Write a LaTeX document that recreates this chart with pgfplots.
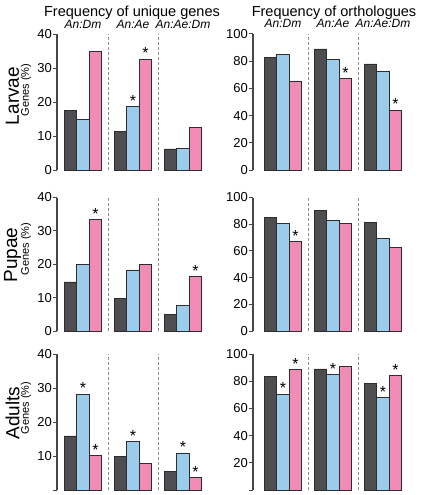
\documentclass[border=0pt]{standalone}
\usepackage{fontspec}
\setmainfont{Liberation Sans}
\usepackage{pgfplots}
\pgfplotsset{compat=1.18}
\definecolor{cdark}{RGB}{78,78,80}
\definecolor{cblue}{RGB}{155,204,236}
\definecolor{cpink}{RGB}{240,140,182}
\definecolor{cline}{RGB}{45,45,47}
\definecolor{caxis}{RGB}{70,70,70}
\definecolor{cdash}{RGB}{140,140,140}
\tikzset{glab/.style={anchor=base, font=\itshape\fontsize{12}{12}\selectfont},
  rowlab/.style={rotate=90, font=\fontsize{19}{19}\selectfont},
  genlab/.style={rotate=90, font=\fontsize{11}{11}\selectfont}}
\pgfplotsset{
  panel/.style={scale only axis, axis y line=left, axis x line=none,
    y axis line style={-, line width=1.2pt, caxis},
    ytick style={line width=1pt, caxis}, tick align=outside, major tick length=4pt,
    xtick=\empty, xmax=3.5, ymin=0, clip=false,
    /pgf/number format/assume math mode=true,
    yticklabel style={font=\fontsize{13}{13}\selectfont, inner sep=1pt}},
  lpanel/.style={panel, width=151pt, xmin=0.48, ymax=40, ytick={0,10,20,30,40}},
  rpanel/.style={panel, width=155pt, xmin=0.4, ymax=100, ytick={0,20,40,60,80,100}},
  bbase/.style={ybar, bar width=0.25, bar shift=0pt, draw=cline, line width=0.8pt},
  bdark/.style={bbase, fill=cdark},
  bblue/.style={bbase, fill=cblue},
  bpink/.style={bbase, fill=cpink},
  star/.style={draw=none, mark=none, nodes near coords={*},
    every node near coord/.style={anchor=south, inner sep=0pt, text=black, font=\fontsize{16}{16}\selectfont}},
  sep/.style={cdash, dash pattern=on 3pt off 2pt, line width=0.9pt},
}
\begin{document}
\begin{tikzpicture}
\path[use as bounding box] (0pt,0pt) rectangle (423pt,-495pt);
% titles
\node[anchor=base, font=\fontsize{14.5}{14.5}\selectfont] at (132pt,-16.5pt) {Frequency of unique genes};
\node[anchor=base, font=\fontsize{14.5}{14.5}\selectfont] at (334pt,-16.5pt) {Frequency of orthologues};
% row labels
\node[rowlab] at (12.5pt,-96pt) {Larvae};
\node[genlab] at (26pt,-90pt) {Genes (\%)};
\node[rowlab] at (12.5pt,-255pt) {Pupae};
\node[genlab] at (26pt,-249pt) {Genes (\%)};
\node[rowlab] at (12.5pt,-413pt) {Adults};
\node[genlab] at (26pt,-408pt) {Genes (\%)};

% ---------- Larvae, unique ----------
\begin{axis}[lpanel, at={(57pt,-170pt)}, anchor=south west, height=136pt]
\addplot[sep] coordinates {(1.5,0) (1.5,40)};
\addplot[sep] coordinates {(2.5,0) (2.5,40)};
\addplot[bdark] coordinates {(0.75,17.5) (1.75,11.3) (2.75,6.2)};
\addplot[bblue] coordinates {(1,14.9) (2,18.7) (3,6.4)};
\addplot[bpink] coordinates {(1.25,34.8) (2.25,32.6) (3.25,12.5)};
\addplot[star] coordinates {(2,18.7) (2.25,32.6)};
\node[glab] at (axis cs:1,40) [yshift=6pt] {An:Dm};
\node[glab] at (axis cs:2,40) [yshift=6pt] {An:Ae};
\node[glab] at (axis cs:3,40) [yshift=6pt] {An:Ae:Dm};
\end{axis}
% ---------- Larvae, orthologues ----------
\begin{axis}[rpanel, at={(253pt,-170pt)}, anchor=south west, height=136pt]
\addplot[sep] coordinates {(1.5,0) (1.5,100)};
\addplot[sep] coordinates {(2.5,0) (2.5,100)};
\addplot[bdark] coordinates {(0.75,82.5) (1.75,89) (2.75,78)};
\addplot[bblue] coordinates {(1,85) (2,81) (3,72.5)};
\addplot[bpink] coordinates {(1.25,65.5) (2.25,67) (3.25,44)};
\addplot[star] coordinates {(2.25,67) (3.25,44)};
\node[glab] at (axis cs:1,100) [yshift=6pt] {An:Dm};
\node[glab] at (axis cs:2,100) [yshift=6pt] {An:Ae};
\node[glab] at (axis cs:3,100) [yshift=6pt] {An:Ae:Dm};
\end{axis}
% ---------- Pupae, unique ----------
\begin{axis}[lpanel, at={(57pt,-331pt)}, anchor=south west, height=133.5pt]
\addplot[sep] coordinates {(1.5,0) (1.5,40)};
\addplot[sep] coordinates {(2.5,0) (2.5,40)};
\addplot[bdark] coordinates {(0.75,14.7) (1.75,9.7) (2.75,4.9)};
\addplot[bblue] coordinates {(1,19.9) (2,18.3) (3,7.7)};
\addplot[bpink] coordinates {(1.25,33.4) (2.25,19.9) (3.25,16.3)};
\addplot[star] coordinates {(1.25,33.4) (3.25,16.3)};
\end{axis}
% ---------- Pupae, orthologues ----------
\begin{axis}[rpanel, at={(253pt,-331pt)}, anchor=south west, height=133.5pt]
\addplot[sep] coordinates {(1.5,0) (1.5,100)};
\addplot[sep] coordinates {(2.5,0) (2.5,100)};
\addplot[bdark] coordinates {(0.75,85) (1.75,90.25) (2.75,81.25)};
\addplot[bblue] coordinates {(1,80.25) (2,82.5) (3,69.25)};
\addplot[bpink] coordinates {(1.25,67) (2.25,80.25) (3.25,62.5)};
\addplot[star] coordinates {(1.25,67)};
\end{axis}
% ---------- Adults, unique ----------
\begin{axis}[lpanel, at={(57pt,-490pt)}, anchor=south west, height=136pt, yticklabels={,10,20,30,40}]
\addplot[sep] coordinates {(1.5,0) (1.5,40)};
\addplot[sep] coordinates {(2.5,0) (2.5,40)};
\addplot[bdark] coordinates {(0.75,15.9) (1.75,9.8) (2.75,5.5)};
\addplot[bblue] coordinates {(1,28.2) (2,14.2) (3,10.9)};
\addplot[bpink] coordinates {(1.25,10.2) (2.25,7.9) (3.25,3.7)};
\addplot[star] coordinates {(1,28.2) (1.25,10.2) (2,14.2) (3,10.9) (3.25,3.7)};
\end{axis}
% ---------- Adults, orthologues ----------
\begin{axis}[rpanel, at={(253pt,-490pt)}, anchor=south west, height=136pt, yticklabels={,20,40,60,80,100}]
\addplot[sep] coordinates {(1.5,0) (1.5,100)};
\addplot[sep] coordinates {(2.5,0) (2.5,100)};
\addplot[bdark] coordinates {(0.75,83.5) (1.75,89) (2.75,78.5)};
\addplot[bblue] coordinates {(1,70.5) (2,84.75) (3,67.75)};
\addplot[bpink] coordinates {(1.25,88.75) (2.25,91) (3.25,84.25)};
\addplot[star] coordinates {(1,70.5) (1.25,88.75) (2,84.75) (3,67.75) (3.25,84.25)};
\end{axis}
\end{tikzpicture}
\end{document}
